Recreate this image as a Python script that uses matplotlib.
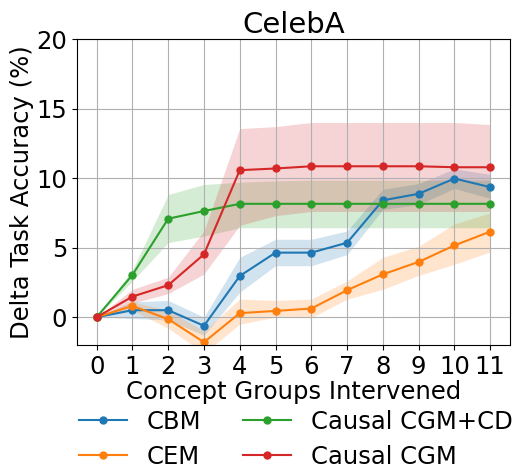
import matplotlib
matplotlib.use("Agg")
import matplotlib.pyplot as plt
import numpy as np

groups = np.arange(12)

cbm = [0, 0.5, 0.5, -0.62, 2.96, 4.64, 4.64, 5.35, 8.4, 8.87, 9.97, 9.35]
cbm_lo = [0, -0.1, -0.2, -1.3, 1.8, 3.7, 3.7, 4.5, 7.75, 8.1, 9.25, 8.55]
cbm_hi = [0, 1.1, 1.2, 0.0, 4.3, 5.6, 5.6, 6.2, 9.2, 9.6, 10.67, 10.26]

cem = [0, 0.81, -0.14, -1.8, 0.29, 0.45, 0.62, 1.94, 3.08, 3.97, 5.16, 6.15]
cem_lo = [0, 0.5, -0.8, -2.6, -0.5, 0.0, -0.05, 1.3, 2.0, 3.0, 3.8, 4.7]
cem_hi = [0, 1.1, 0.5, -1.0, 1.3, 1.2, 1.3, 2.6, 4.3, 5.1, 6.7, 7.5]

cgm_cd = [0, 3.04, 7.08, 7.63, 8.15, 8.15, 8.15, 8.15, 8.15, 8.15, 8.15, 8.15]
cgm_cd_lo = [0, 2.6, 5.36, 5.83, 6.43, 6.43, 6.43, 6.43, 6.43, 6.43, 6.43, 6.43]
cgm_cd_hi = [0, 3.4, 8.82, 9.54, 9.7, 9.8, 9.85, 9.85, 9.85, 9.85, 9.85, 9.85]

cgm = [0, 1.48, 2.3, 4.52, 10.57, 10.69, 10.85, 10.85, 10.85, 10.85, 10.78, 10.78]
cgm_lo = [0, 1.0, 1.7, 3.1, 6.6, 7.3, 7.6, 7.6, 7.6, 7.6, 7.6, 7.6]
cgm_hi = [0, 2.0, 2.87, 6.2, 13.56, 13.7, 14.0, 14.0, 14.0, 14.0, 14.0, 13.85]

series = [
    ("CBM", cbm, cbm_lo, cbm_hi, "tab:blue"),
    ("CEM", cem, cem_lo, cem_hi, "tab:orange"),
    ("Causal CGM+CD", cgm_cd, cgm_cd_lo, cgm_cd_hi, "tab:green"),
    ("Causal CGM", cgm, cgm_lo, cgm_hi, "tab:red"),
]

fig, ax = plt.subplots(figsize=(5.15, 4.7), dpi=100)
fig.subplots_adjust(left=0.1495, right=0.990, top=0.917, bottom=0.266)

for name, y, lo, hi, c in series:
    ax.plot(groups, y, marker="o", markersize=5, linewidth=1.5, color=c, label=name)
    ax.fill_between(groups, lo, hi, color=c, alpha=0.2, linewidth=0)

ax.set_xlim(-0.55, 11.55)
ax.set_ylim(-2, 20)
ax.set_xticks(groups)
ax.set_yticks([0, 5, 10, 15, 20])
ax.tick_params(labelsize=17.5)
ax.grid(True)
ax.set_title("CelebA", fontsize=21, pad=4)
ax.set_xlabel("Concept Groups Intervened", fontsize=17.5, labelpad=1)
ax.set_ylabel("Delta Task Accuracy (%)", fontsize=17.5, labelpad=2)

ax.legend(loc="upper center", bbox_to_anchor=(0.505, -0.18), ncol=2, frameon=False,
          fontsize=17.5, handlelength=2, columnspacing=1.7, borderaxespad=0,
          labelspacing=0.45)

fig.savefig("out.png", dpi=100)
